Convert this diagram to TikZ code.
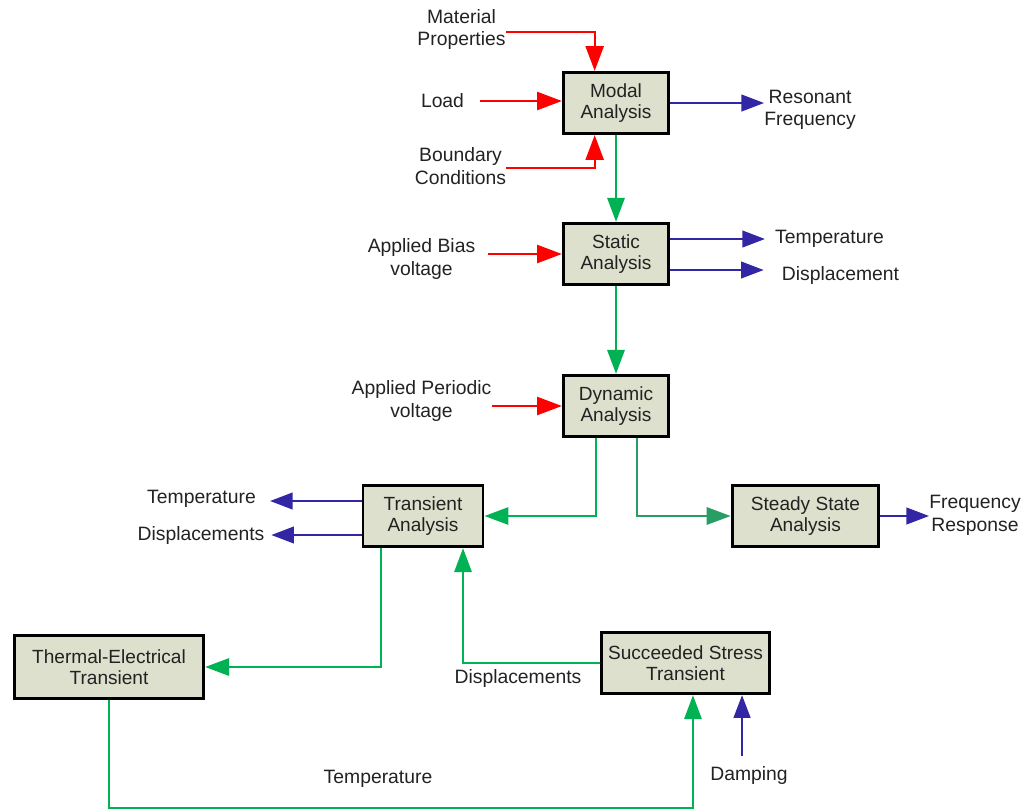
\documentclass[tikz,border=0pt]{standalone}
\usepackage{fontspec}
\setmainfont{Liberation Sans}
\usepackage{tikz}
\usetikzlibrary{shapes,arrows.meta}
\definecolor{blockfill}{RGB}{221,224,204}
\definecolor{feedred}{RGB}{255,0,0}
\definecolor{resblue}{RGB}{50,38,164}
\definecolor{flowgreen}{RGB}{0,178,84}
\definecolor{steadygreen}{RGB}{40,158,100}
\definecolor{txtgray}{RGB}{34,34,34}
\tikzstyle{block} = [draw, line width=2.2pt, fill=blockfill, rectangle,
    minimum height=46pt, align=center, text=txtgray,
    font=\fontsize{14.3}{16}\selectfont]
\tikzstyle{txt} = [align=center, inner sep=0pt, text=txtgray]
\tikzstyle{feed} = [draw=feedred, line width=1.6pt,
    -{Triangle[length=18.5pt,width=13.5pt]}]
\tikzstyle{result} = [draw=resblue, line width=1.6pt,
    -{Triangle[length=17pt,width=12.5pt]}]
\tikzstyle{flow} = [draw=flowgreen, line width=1.6pt,
    -{Triangle[length=18pt,width=13pt]}]

\begin{document}
\begin{tikzpicture}[x=0.75pt, y=-0.75pt, font=\fontsize{14.5}{17}\selectfont]
    \useasboundingbox (0,0) rectangle (1024,811);

    % We start by placing the analysis blocks
    \node [block, minimum width=79pt] (modal) at (616,103) {Modal\\Analysis};
    \node [block, minimum width=79pt] (static) at (616,254) {Static\\Analysis};
    \node [block, minimum width=79pt] (dynamic) at (616,406) {Dynamic\\Analysis};
    \node [block, minimum width=90pt] (transient) at (423,516) {Transient\\Analysis};
    \node [block, minimum width=110pt] (steady) at (805.5,516) {Steady State\\Analysis};
    \node [block, minimum width=142pt, minimum height=47.5pt] (thermal) at (109,667)
        {Thermal-Electrical\\Transient};
    \node [block, minimum width=126pt] (stress) at (685.5,663)
        {Succeeded Stress\\Transient};

    % then the free texts, inputs and outputs
    \node [txt] (matprop) at (461.5,29.5) {Material\\Properties};
    \node [txt] (load) at (442.5,101) {Load};
    \node [txt] (boundary) at (460.5,166) {Boundary\\Conditions};
    \node [txt] (resonant) at (810,110) {Resonant\\Frequency};
    \node [txt] (biasv) at (421.5,259) {Applied Bias\\voltage};
    \node [txt] (temp1) at (829.5,239) {Temperature};
    \node [txt] (disp1) at (840.5,275) {Displacement};
    \node [txt] (periodic) at (421.5,401) {Applied Periodic\\voltage};
    \node [txt] (freqresp) at (975,515.5) {Frequency\\Response};
    \node [txt] (temp2) at (201.5,499) {Temperature};
    \node [txt] (disp2) at (201,535) {Displacements};
    \node [txt] (disp3) at (518,678) {Displacements};
    \node [txt] (temp3) at (378,779) {Temperature};
    \node [txt] (damping) at (749,775) {Damping};

    % Inputs of the modal analysis
    \draw [feed] ([yshift=-2pt]matprop.east) -| ([xshift=-16pt]modal.north);
    \draw [feed, shorten <=12pt] (load.east) -- (load.east -| modal.west);
    \draw [feed] ([yshift=-1.5pt]boundary.east) -| ([xshift=-16pt]modal.south);
    \draw [result] (modal.east) -- (modal.east -| resonant.west);

    % Static and dynamic steps
    \draw [flow] (modal) -- (static);
    \draw [feed, shorten <=9pt] (static.west -| biasv.east) -- (static.west);
    \draw [result, shorten >=7.5pt] ([yshift=11.25pt]static.east) --
        ([yshift=11.25pt]static.east -| temp1.west);
    \draw [result, shorten >=13.5pt] ([yshift=-12pt]static.east) --
        ([yshift=-12pt]static.east -| disp1.west);
    \draw [flow] (static) -- (dynamic);
    \draw [feed] (dynamic.west -| periodic.east) -- (dynamic.west);

    % The dynamic analysis splits in two
    \draw [flow] ([xshift=-15pt]dynamic.south) |- (transient.east);
    \draw [flow, draw=steadygreen] ([xshift=15.75pt]dynamic.south) |- (steady.west);
    \draw [result] (steady.east) -- (steady.east -| freqresp.west);
    \draw [result, shorten >=10.5pt] ([yshift=11.25pt]transient.west) --
        ([yshift=11.25pt]transient.west -| temp2.east);
    \draw [result, shorten >=5pt] ([yshift=-14.25pt]transient.west) --
        ([yshift=-14.25pt]transient.west -| disp2.east);

    % Coupled transient loop
    \draw [flow] ([xshift=-31.5pt]transient.south) |- (thermal.east);
    \draw [flow] (stress.west) -| ([xshift=30pt]transient.south);
    \draw [flow] (thermal.south) -- ++(0,108) -| ([xshift=5.6pt]stress.south);
    \draw [result, shorten <=7.5pt] ([xshift=42.4pt]stress.south |- damping.north) --
        ([xshift=42.4pt]stress.south);

\end{tikzpicture}
\end{document}
